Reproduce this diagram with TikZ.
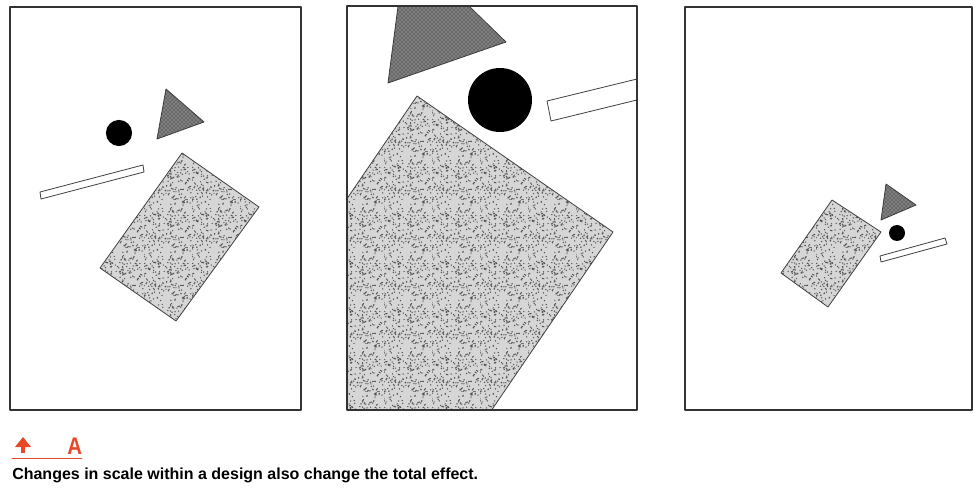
\documentclass[tikz,border=0pt]{standalone}
\usepackage{fontspec}
\setmainfont{Liberation Sans}
\usetikzlibrary{arrows.meta,patterns}
\definecolor{capred}{RGB}{232,72,40}
% one tile of scattered grain, repeated by the pattern
\pgfmathsetseed{11}
\pgfdeclarepatternformonly{grain}{\pgfpointorigin}{\pgfpoint{36pt}{36pt}}{\pgfpoint{36pt}{36pt}}{%
  \foreach \k in {1,...,230}{%
    \pgfmathsetmacro\gx{rnd*36}\pgfmathsetmacro\gy{rnd*36}%
    \pgfpathcircle{\pgfpoint{\gx pt}{\gy pt}}{0.55pt}}%
  \pgfusepath{fill}}
\begin{document}
\begin{tikzpicture}[x=0.75pt,y=-0.75pt,line cap=round,line join=round,
  frame/.style={draw=black!80,line width=1.2pt},
  outline/.style={draw=black!75,line width=0.6pt},
  stipple/.style={fill=black!16,postaction={pattern=grain,pattern color=black!68}},
  mesh/.style={fill=black!50,postaction={pattern=crosshatch dots,pattern color=black!90}},
  bar/.style={draw=black!75,fill=white,line width=0.6pt}]
  \useasboundingbox (0,0) rectangle (974,488);

  % left panel
  \draw[outline,stipple] (182,153) -- (259,207) -- (176,321) -- (100,268) -- cycle;
  \draw[outline,mesh] (166,89) -- (204,122) -- (157,139) -- cycle;
  \fill (119,133) circle (9.8pt);
  \draw[bar] (40,192) -- (143,165) -- (144,172) -- (41,199) -- cycle;
  \draw[frame] (10,7) rectangle (301,410);

  % middle panel
  \begin{scope}
    \clip (347,6) rectangle (637,410);
    \draw[outline,stipple] (417,96) -- (613,232) -- (431,499) -- (235,363) -- cycle;
    \draw[outline,mesh] (406,-55) -- (506,42) -- (388,83) -- cycle;
    \draw[bar] (547,101) -- (682,68) -- (686,88) -- (551,121) -- cycle;
  \end{scope}
  \fill (500,100) circle (24pt);
  \draw[frame] (347,6) rectangle (637,410);

  % right panel
  \draw[outline,stipple] (832,200) -- (881,232) -- (828,307) -- (781,273) -- cycle;
  \draw[outline,mesh] (886,184) -- (916,205) -- (881,220) -- cycle;
  \fill (897,233) circle (6pt);
  \draw[bar] (880,256) -- (945,238) -- (947,244) -- (881,262) -- cycle;
  \draw[frame] (685,7) rectangle (972,410);

  % caption
  \coordinate (tail) at (23,453);
  \coordinate (tip) at (23,437);
  \draw[capred,line width=2.8pt,line cap=butt,-{Triangle[length=7.5pt,width=11.5pt]}] (tail) -- (tip);
  \node[capred,anchor=base west,inner sep=0pt,font=\bfseries\fontsize{18}{20}\selectfont] (label) at (67,454) {\scalebox{0.85}[1]{A}};
  \draw[capred,line width=0.7pt] (12,458) -- (82,458);
  \node[anchor=base west,inner sep=0pt,font=\bfseries\fontsize{12}{14}\selectfont] (caption) at (12,479)
    {Changes in scale within a design also change the total effect.};
\end{tikzpicture}
\end{document}
